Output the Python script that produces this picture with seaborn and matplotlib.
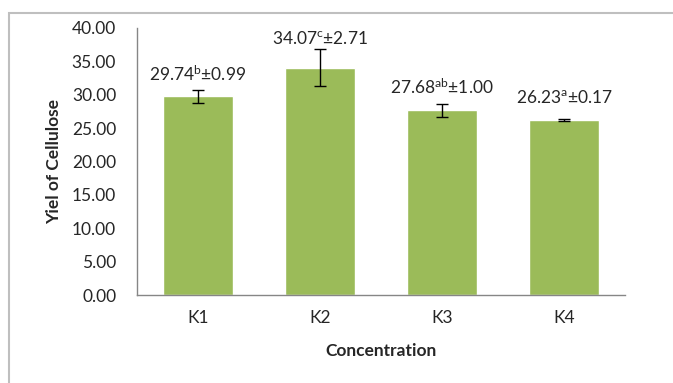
import matplotlib
matplotlib.use("Agg")
import matplotlib.pyplot as plt
import seaborn as sns
import pandas as pd
from matplotlib.patches import Rectangle

categories = ["K1", "K2", "K3", "K4"]
means = [29.74, 34.07, 27.68, 26.23]
sds = [0.99, 2.71, 1.00, 0.17]
letters = ["b", "c", "ab", "a"]
yticks = [0, 5, 10, 15, 20, 25, 30, 35, 40]

sns.set_style("white")
plt.rcParams["font.family"] = ["Lato", "DejaVu Sans"]
plt.rcParams["mathtext.fontset"] = "custom"
plt.rcParams["mathtext.rm"] = "Lato"
plt.rcParams["mathtext.it"] = "Lato"
plt.rcParams["mathtext.bf"] = "Lato:bold"

df = pd.DataFrame({"Concentration": categories, "Yield": means})

fig = plt.figure(figsize=(6.73, 3.83), dpi=100)
ax = fig.add_axes([137/673, 1-295/383, (625-137)/673, (295-28)/383])

sns.barplot(data=df, x="Concentration", y="Yield", color="#9BBB59",
            saturation=1, width=0.57, ax=ax, errorbar=None)
ax.errorbar(range(len(categories)), means, yerr=sds, fmt="none",
            ecolor="black", elinewidth=1, capsize=4, capthick=1)

offsets = [4, 2, 4.5, 9]
for i, (m, s, l) in enumerate(zip(means, sds, letters)):
    ax.annotate(f"{m:.2f}$^{{\\mathrm{{{l}}}}}$±{s:.2f}", xy=(i, m + s),
                xytext=(0, offsets[i]), textcoords="offset points",
                ha="center", va="bottom", fontsize=12.5, color="#262626")

ax.set_ylim(0, 40)
ax.set_xlim(-0.5, 3.5)
ax.set_yticks(yticks)
ax.set_yticklabels([f"{v:.2f}" for v in yticks], fontsize=12.5, color="#262626")
ax.set_xticks(range(len(categories)))
ax.set_xticklabels(categories, fontsize=12.5, color="#262626")
ax.set_xticks([-0.5, 0.5, 1.5, 2.5, 3.5], minor=True)
ax.tick_params(axis="x", which="major", length=0, pad=11)
ax.tick_params(axis="x", which="minor", length=5, color="#868686", width=1)
ax.tick_params(axis="y", length=0, pad=15)

for sp in ["top", "right"]:
    ax.spines[sp].set_visible(False)
for sp in ["left", "bottom"]:
    ax.spines[sp].set_color("#868686")
    ax.spines[sp].set_linewidth(1)

ax.set_xlabel("Concentration", fontsize=12.5, fontweight="bold", labelpad=12, color="#262626")
ax.set_ylabel("Yiel of Cellulose", fontsize=12.5, fontweight="bold", labelpad=7, color="#262626")

fig.patches.append(Rectangle((9/673, -0.1), 1.2, 1 - 13/383 + 0.1,
                             transform=fig.transFigure, fill=False,
                             edgecolor="#BFBFBF", linewidth=1.5))

fig.savefig("out.png", dpi=100)
